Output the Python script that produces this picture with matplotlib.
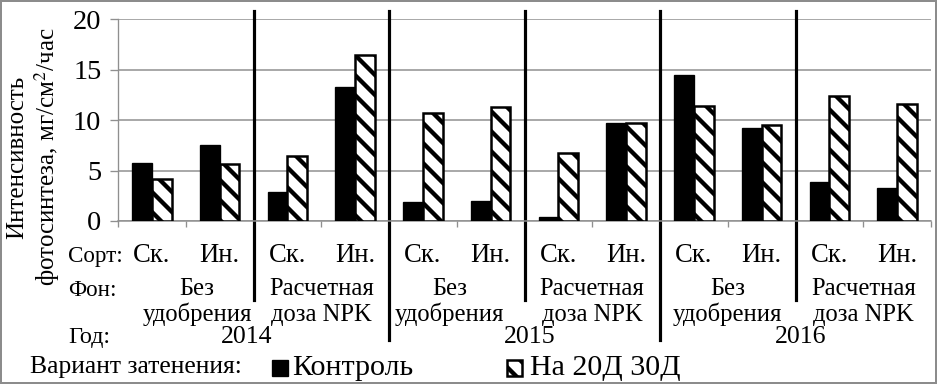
import matplotlib
matplotlib.use("Agg")
import matplotlib.pyplot as plt
import matplotlib.transforms as mtransforms
from matplotlib.patches import Rectangle
import numpy as np

plt.rcParams['font.family'] = ['Liberation Serif', 'DejaVu Serif']
plt.rcParams['mathtext.fontset'] = 'stix'
plt.rcParams['hatch.linewidth'] = 2.6

# data
sorts = ["Ск.", "Ин."] * 6
fon_top = ["Без", "Расчетная"] * 3
fon_bot = ["удобрения", "доза NPK"] * 3
years = ["2014", "2015", "2016"]
control = [5.72, 7.54, 2.88, 13.3, 1.88, 1.98, 0.36, 9.72, 14.5, 9.26, 3.87, 3.3]
shaded = [4.17, 5.65, 6.42, 16.5, 10.7, 11.35, 6.75, 9.72, 11.4, 9.52, 12.4, 11.58]

W, H = 938, 384
dpi = 120
fig = plt.figure(figsize=(W / dpi, H / dpi), dpi=dpi)
ax = fig.add_axes([118 / W, 1 - 221 / H, (931 - 118) / W, (221 - 19.3) / H])

x = np.arange(len(control))
bw = 0.29
b1 = ax.bar(x - bw / 2, control, bw, color='black', edgecolor='black', linewidth=0.8, zorder=3)
b2 = ax.bar(x + bw / 2, shaded, bw, color='white', edgecolor='black', linewidth=1.5,
            hatch='\\\\', zorder=3)

ax.set_xlim(-0.5, len(control) - 0.5)
ax.set_ylim(0, 20)
ax.set_yticks([0, 5, 10, 15, 20])
ax.yaxis.grid(True, color='#8f8f8f', linewidth=0.9, zorder=0)
ax.tick_params(axis='y', labelsize=17, length=5, color='#8f8f8f', pad=5)
ax.set_xticks(np.arange(-0.5, len(control), 1))
ax.set_xticklabels([])
ax.tick_params(axis='x', length=3.5, color='#8f8f8f', direction='out')
for s in ['top', 'right']:
    ax.spines[s].set_visible(False)
ax.spines['left'].set_color('#8f8f8f')
ax.spines['bottom'].set_color('#8f8f8f')
ax.spines['left'].set_linewidth(0.8)
ax.spines['bottom'].set_linewidth(0.9)

# separators between groups
tr = mtransforms.blended_transform_factory(ax.transData, ax.transAxes)
for xs in [1.5, 5.5, 9.5]:
    ax.plot([xs, xs], [1.041, -0.392], color='black', lw=1.9, transform=tr, clip_on=False)
for xs in [3.5, 7.5]:
    ax.plot([xs, xs], [1.041, -0.590], color='black', lw=1.9, transform=tr, clip_on=False)

# category labels under the axis
tf = mtransforms.blended_transform_factory(ax.transData, fig.transFigure)
def fy(p):
    return 1 - p / H

for i, s in enumerate(sorts):
    ax.text(i, fy(261.5), s, transform=tf, ha='center', va='baseline', fontsize=16)

fon_x = [0.67, 2.5, 4.4, 6.5, 8.5, 10.5]
for g in range(6):
    ax.text(fon_x[g], fy(295), fon_top[g], transform=tf, ha='center', va='baseline', fontsize=14.8)
    ax.text(fon_x[g], fy(321), fon_bot[g], transform=tf, ha='center', va='baseline', fontsize=14.8)

year_x = [1.4, 5.57, 9.57]
for g, yr in enumerate(years):
    ax.text(year_x[g], fy(343), yr, transform=tf, ha='center', va='baseline', fontsize=15.5)

fig.text(68 / W, fy(262), "Сорт:", ha='left', va='baseline', fontsize=13.8)
fig.text(68 / W, fy(296.5), "Фон:", ha='left', va='baseline', fontsize=13.8)
fig.text(68 / W, fy(343), "Год:", ha='left', va='baseline', fontsize=14.5)

# y label
fig.text(34 / W, fy(157), "Интенсивность\nфотосинтеза, мг/см$^2$/час", rotation=90,
         ha='center', va='center', multialignment='center', fontsize=15, linespacing=1.15)

# legend
fig.text(30 / W, fy(372.7), "Вариант затенения:", ha='left', va='baseline', fontsize=15.4)
fig.patches.append(Rectangle((272 / W, fy(376)), 16 / W, 16 / H, transform=fig.transFigure,
                             facecolor='black', edgecolor='black', lw=0.8))
fig.text(292 / W, fy(375), "Контроль", ha='left', va='baseline', fontsize=18)
fig.patches.append(Rectangle((507 / W, fy(376)), 15 / W, 16 / H, transform=fig.transFigure,
                             facecolor='white', edgecolor='black', lw=1.5, hatch='\\\\'))
fig.text(530 / W, fy(375), "На 20Д 30Д", ha='left', va='baseline', fontsize=18)

# outer frame
fig.patches.append(Rectangle((0.001, 0.002), 0.997, 0.995, transform=fig.transFigure,
                             fill=False, edgecolor='#8c8c8c', lw=1.2))

fig.savefig("out.png", dpi=dpi)
